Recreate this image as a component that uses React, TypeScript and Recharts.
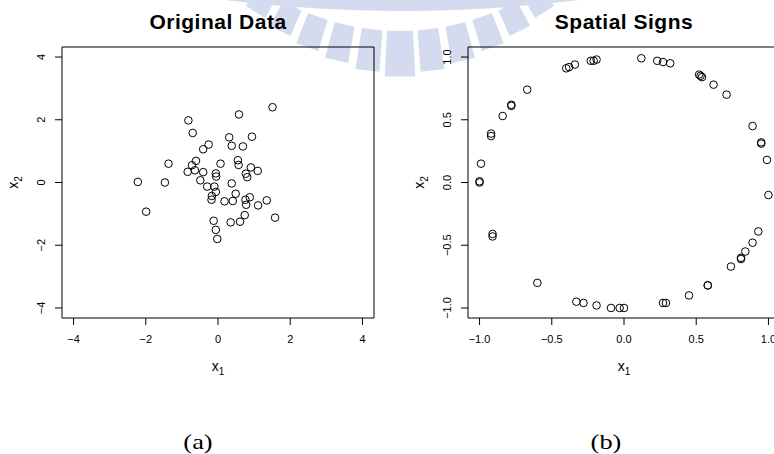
import { ScatterChart, Scatter, XAxis, YAxis, ReferenceArea } from 'recharts';

// raw sample (left panel)
const origX = [
  1.51, -0.82, 0.58, -0.7, 0.31, 0.94, -0.26, -0.41, 0.38, 0.69,
  -1.37, -0.61, -0.72, 0.07, 0.55, 0.57, 0.91, 1.1, -0.84, -0.64,
  -0.41, -0.06, -0.05, 0.77, 0.81, -2.22, -1.47, -0.49, 0.38, -0.3,
  -0.1, -0.06, 0.49, -0.17, -0.18, 0.18, 0.41, 0.88, 0.76, 0.78,
  1.11, 1.35, -1.99, 1.58, 0.74, -0.12, 0.35, 0.61, -0.06, -0.02,
];
const origY = [
  2.4, 1.98, 2.17, 1.58, 1.44, 1.46, 1.21, 1.06, 1.17, 1.15,
  0.6, 0.69, 0.55, 0.6, 0.71, 0.56, 0.48, 0.37, 0.34, 0.39,
  0.33, 0.29, 0.19, 0.28, 0.17, 0.02, 0.0, 0.07, -0.03, -0.13,
  -0.13, -0.3, -0.36, -0.43, -0.55, -0.6, -0.59, -0.47, -0.55, -0.71,
  -0.73, -0.57, -0.93, -1.12, -1.04, -1.22, -1.27, -1.25, -1.51, -1.8,
];

// unit-length spatial signs (right panel)
const signX = [
  0.12, 0.23, 0.27, 0.32, -0.23, -0.21, -0.19, -0.4, -0.38, -0.34,
  -0.67, -0.78, -0.78, -0.84, -0.92, -0.92, -0.99, 0.52, 0.53, 0.54,
  0.62, 0.71, 0.89, 0.95, 0.95, 0.99, -1.0, -1.0, -0.91, -0.91,
  -0.6, -0.33, -0.28, -0.19, -0.09, -0.03, 0.0, 0.27, 0.29, 0.45,
  0.58, 0.58, 0.74, 0.81, 0.81, 0.84, 0.89, 0.93, 1.0,
];
const signY = [
  0.99, 0.97, 0.96, 0.95, 0.97, 0.97, 0.98, 0.91, 0.92, 0.94,
  0.74, 0.62, 0.61, 0.53, 0.39, 0.37, 0.15, 0.86, 0.85, 0.84,
  0.78, 0.7, 0.45, 0.32, 0.31, 0.18, 0.01, 0.0, -0.41, -0.43,
  -0.8, -0.95, -0.96, -0.98, -1.0, -1.0, -1.0, -0.96, -0.96, -0.9,
  -0.82, -0.82, -0.67, -0.61, -0.6, -0.55, -0.48, -0.39, -0.1,
];

const origTicks = [-4, -2, 0, 2, 4];
const signTicks = [-1, -0.5, 0, 0.5, 1];

const SANS = '"Liberation Sans", Arial, Helvetica, sans-serif';
const SERIF = '"Liberation Serif", "Times New Roman", serif';
const WM = '#d4dbef';

const toPoints = (xs: number[], ys: number[]) => xs.map((x, i) => ({ x, y: ys[i] }));

const minus = (s: string) => s.replace('-', '\u2212');
const fmtInt = (v: number) => minus(String(v));
const fmtOne = (v: number) => minus(v.toFixed(1));

function XTick({ x, y, payload, fmt }: any) {
  return (
    <text x={x} y={y + 16} textAnchor="middle" fontSize={11} fontFamily={SANS} fill="#000">
      {fmt(payload.value)}
    </text>
  );
}

function YTick({ x, y, payload, fmt }: any) {
  const bx = x - 8;
  return (
    <text
      x={bx}
      y={y}
      transform={`rotate(-90, ${bx}, ${y})`}
      textAnchor="middle"
      fontSize={11}
      fontFamily={SANS}
      fill="#000"
    >
      {fmt(payload.value)}
    </text>
  );
}

const ring = (p: any) => (
  <circle cx={p.cx} cy={p.cy} r={3.8} fill="none" stroke="#000" strokeWidth={1} />
);

interface PanelProps {
  data: { x: number; y: number }[];
  lim: number;
  ticks: number[];
  fmt: (v: number) => string;
  width: number;
  marginLeft: number;
  marginRight: number;
}

function Panel({ data, lim, ticks, fmt, width, marginLeft, marginRight }: PanelProps) {
  return (
    <ScatterChart
      width={width}
      height={454}
      margin={{ top: 47, right: marginRight, bottom: 106, left: marginLeft }}
    >
      <XAxis
        type="number"
        dataKey="x"
        domain={[-lim, lim]}
        ticks={ticks}
        allowDataOverflow
        height={30}
        axisLine={false}
        tickSize={7}
        tickLine={{ stroke: '#000', strokeWidth: 1 }}
        tick={<XTick fmt={fmt} />}
        interval={0}
      />
      <YAxis
        type="number"
        dataKey="y"
        domain={[-lim, lim]}
        ticks={ticks}
        allowDataOverflow
        width={40}
        axisLine={false}
        tickSize={7}
        tickLine={{ stroke: '#000', strokeWidth: 1 }}
        tick={<YTick fmt={fmt} />}
        interval={0}
      />
      <ReferenceArea
        x1={-lim}
        x2={lim}
        y1={-lim}
        y2={lim}
        fill="none"
        stroke="#000"
        strokeWidth={1}
        fillOpacity={0}
        ifOverflow="visible"
      />
      <Scatter data={data} shape={ring} isAnimationActive={false} />
    </ScatterChart>
  );
}

// faint fan-shaped mark behind the titles
function Watermark() {
  const cx = 400;
  const cy = -215;
  const r1 = 246;
  const pt = (r: number, deg: number) => {
    const a = (deg * Math.PI) / 180;
    return `${(cx + r * Math.sin(a)).toFixed(1)},${(cy + r * Math.cos(a)).toFixed(1)}`;
  };
  const angles = [-32.5, -26, -19.5, -13, -6.5, 0, 6.5, 13, 19.5, 26, 32.5];
  return (
    <svg width={774} height={454} style={{ position: 'absolute', left: 0, top: 0 }}>
      <path d="M 225 0 Q 400 22 580 0 Z" fill={WM} />
      {angles.map((a) => {
        const hw = a === 0 ? 3 : 2.4;
        const r2 = 292 - 0.7 * Math.abs(a);
        return (
          <polygon
            key={a}
            points={[pt(r1, a - hw), pt(r2, a - hw), pt(r2, a + hw), pt(r1, a + hw)].join(' ')}
            fill={WM}
          />
        );
      })}
    </svg>
  );
}

function Labels() {
  const title = { fontSize: 21, fontWeight: 700, fontFamily: SANS, letterSpacing: 0.5, fill: '#000' };
  const lab = { fontSize: 14, fontFamily: SANS, fill: '#000' };
  const cap = { fontSize: 22, fontFamily: SERIF, fill: '#000' };
  return (
    <svg width={774} height={454} style={{ position: 'absolute', left: 0, top: 0, pointerEvents: 'none' }}>
      <text x={218} y={29} textAnchor="middle" {...title}>Original Data</text>
      <text x={624} y={29} textAnchor="middle" {...title}>Spatial Signs</text>

      <text x={218} y={371} textAnchor="middle" {...lab}>
        x<tspan fontSize={10} dy={4}>1</tspan>
      </text>
      <text x={624} y={371} textAnchor="middle" {...lab}>
        x<tspan fontSize={10} dy={4}>1</tspan>
      </text>
      <text transform="translate(18,182.5) rotate(-90)" textAnchor="middle" {...lab}>
        x<tspan fontSize={10} dy={4}>2</tspan>
      </text>
      <text transform="translate(424,182.5) rotate(-90)" textAnchor="middle" {...lab}>
        x<tspan fontSize={10} dy={4}>2</tspan>
      </text>

      <text transform="translate(198,449) scale(1.2,1)" textAnchor="middle" {...cap}>(a)</text>
      <text transform="translate(606,449) scale(1.2,1)" textAnchor="middle" {...cap}>(b)</text>
    </svg>
  );
}

export default function App() {
  const orig = toPoints(origX, origY);
  const signs = toPoints(signX, signY);
  return (
    <div
      style={{
        position: 'absolute',
        left: 0,
        top: 0,
        width: 774,
        height: 454,
        overflow: 'hidden',
        background: '#fff',
      }}
    >
      <Watermark />
      <div style={{ position: 'absolute', left: 0, top: 0 }}>
        <Panel data={orig} lim={4.32} ticks={origTicks} fmt={fmtInt} width={400} marginLeft={22} marginRight={26} />
      </div>
      <div style={{ position: 'absolute', left: 387, top: 0 }}>
        <Panel data={signs} lim={1.08} ticks={signTicks} fmt={fmtOne} width={420} marginLeft={41} marginRight={27} />
      </div>
      <Labels />
    </div>
  );
}
